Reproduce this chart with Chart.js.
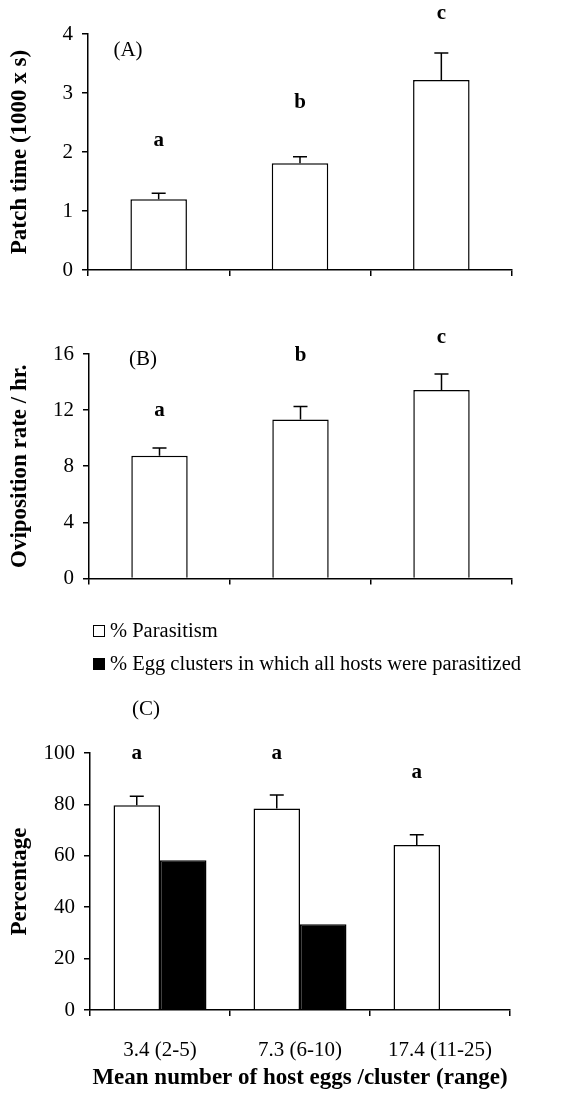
<!DOCTYPE html>
<html>
<head>
<meta charset="utf-8">
<script src="https://cdn.jsdelivr.net/npm/chart.js@4.4.0/dist/chart.umd.min.js"></script>
<style>
  body { margin: 0; background: #fff; width: 571px; height: 1097px; position: relative; overflow: hidden;
         font-family: 'Liberation Serif', 'Times New Roman', serif; color: #000; }
  .box { position: absolute; left: 0; width: 571px; }
  #legend { position: absolute; left: 93px; top: 614px; font-size: 20.5px; line-height: 33px; white-space: nowrap; }
  .key { display: inline-block; width: 10px; height: 10px; border: 1px solid #000; margin-right: 5px; }
</style>
</head>
<body>
<div class="box" style="top:0;height:300px"><canvas id="chartA"></canvas></div>
<div class="box" style="top:300px;height:300px"><canvas id="chartB"></canvas></div>
<div class="box" style="top:600px;height:497px"><canvas id="chartC"></canvas></div>
<div id="legend"></div>
<script>
// data
const groups = ['3.4 (2-5)', '7.3 (6-10)', '17.4 (11-25)'];

const patchTime = [1.2, 1.81, 3.22];
const patchTimeErr = [0.1, 0.11, 0.46];
const patchLetters = ['a', 'b', 'c'];

const ovipRate = [8.74, 11.33, 13.43];
const ovipRateErr = [0.56, 0.93, 1.14];
const ovipLetters = ['a', 'b', 'c'];

const parasitism = [79.7, 78.4, 64.2];
const parasitismErr = [3.5, 5.3, 4.0];
const allParasitized = [58.3, 33.4, 0];
const percentLetters = ['a', 'a', 'a'];

const seriesNames = ['% Parasitism', '% Egg clusters in which all hosts were parasitized'];
const seriesFill = ['#fff', '#000'];

Chart.defaults.font.family = "'Liberation Serif', 'Times New Roman', serif";
Chart.defaults.color = '#000';

// one-sided error bars drawn above each bar
const errorBars = {
  id: 'errorBars',
  afterDatasetsDraw(chart) {
    const ctx = chart.ctx, y = chart.scales.y;
    chart.data.datasets.forEach((ds, i) => {
      if (!ds.errors) return;
      chart.getDatasetMeta(i).data.forEach((bar, j) => {
        const e = ds.errors[j];
        if (!e) return;
        const top = y.getPixelForValue(ds.data[j] + e);
        ctx.save();
        ctx.strokeStyle = '#000';
        ctx.lineWidth = 1.5;
        ctx.beginPath();
        ctx.moveTo(bar.x, bar.y);
        ctx.lineTo(bar.x, top);
        ctx.moveTo(bar.x - 7, top);
        ctx.lineTo(bar.x + 7, top);
        ctx.stroke();
        ctx.restore();
      });
    });
  }
};

// significance letters + panel label
const marks = {
  id: 'marks',
  afterDraw(chart, args, opts) {
    const ctx = chart.ctx, y = chart.scales.y, area = chart.chartArea;
    const bars = chart.getDatasetMeta(0).data;
    ctx.save();
    ctx.fillStyle = '#000';
    ctx.textAlign = 'center';
    ctx.textBaseline = 'middle';
    ctx.font = "bold 21px 'Liberation Serif'";
    opts.letters.forEach((t, i) => ctx.fillText(t, bars[i].x, y.getPixelForValue(opts.letterY[i])));
    ctx.font = "21px 'Liberation Serif'";
    ctx.fillText(opts.panel, area.left + opts.panelX, area.top + opts.panelY);
    ctx.restore();
  }
};

function panel(id, datasets, o) {
  return new Chart(document.getElementById(id), {
    type: 'bar',
    data: { labels: groups, datasets: datasets },
    plugins: [errorBars, marks],
    options: {
      responsive: true,
      maintainAspectRatio: false,
      animation: false,
      layout: { padding: { top: o.top, right: o.right, left: 0, bottom: 0 } },
      datasets: { bar: { categoryPercentage: o.catPct, barPercentage: 1, borderColor: '#000', borderWidth: 1.5 } },
      plugins: {
        legend: { display: false },
        tooltip: { enabled: false },
        marks: { letters: o.letters, letterY: o.letterY, panel: o.panel, panelX: o.panelX, panelY: o.panelY }
      },
      scales: {
        x: {
          offset: true,
          grid: { offset: true, drawOnChartArea: false, tickLength: 6, color: '#000', lineWidth: 1.5 },
          border: { color: '#000', width: 1.5 },
          ticks: { display: o.showLabels, font: { size: 21 }, padding: 22, maxRotation: 0 },
          title: { display: !!o.xTitle, text: o.xTitle, font: { size: 23, weight: 'bold' }, padding: { top: 0, bottom: 5 } },
          afterFit: s => { s.height = o.xHeight; }
        },
        y: {
          min: 0,
          max: o.max,
          ticks: { stepSize: o.step, font: { size: 21 }, padding: 9 },
          grid: { drawOnChartArea: false, tickLength: 6, color: '#000', lineWidth: 1.5 },
          border: { color: '#000', width: 1.5 },
          title: { display: true, text: o.yTitle, font: { size: 23, weight: 'bold' }, padding: { top: 6, bottom: 0 } },
          afterFit: s => { s.width = o.axisX; }
        }
      }
    }
  });
}

panel('chartA', [
  { label: 'Patch time', data: patchTime, errors: patchTimeErr, backgroundColor: '#fff' }
], {
  top: 34, right: 59, axisX: 88, xHeight: 30, catPct: 0.4, max: 4, step: 1,
  yTitle: 'Patch time (1000 x s)', showLabels: false,
  letters: patchLetters, letterY: [2.19, 2.83, 4.34], panel: '(A)', panelX: 40, panelY: 16
});

panel('chartB', [
  { label: 'Oviposition rate', data: ovipRate, errors: ovipRateErr, backgroundColor: '#fff' }
], {
  top: 54, right: 59, axisX: 89, xHeight: 17, catPct: 0.4, max: 16, step: 4,
  yTitle: 'Oviposition rate / hr.', showLabels: false,
  letters: ovipLetters, letterY: [12.0, 15.9, 17.2], panel: '(B)', panelX: 54, panelY: 5
});

panel('chartC', [
  { label: seriesNames[0], data: parasitism, errors: parasitismErr, backgroundColor: seriesFill[0] },
  { label: seriesNames[1], data: allParasitized, backgroundColor: seriesFill[1] }
], {
  top: 153, right: 61, axisX: 90, xHeight: 87, catPct: 0.664, max: 100, step: 20,
  yTitle: 'Percentage', xTitle: 'Mean number of host eggs /cluster (range)', showLabels: true,
  letters: percentLetters, letterY: [99.8, 99.8, 92.5], panel: '(C)', panelX: 56, panelY: -44
});

// legend for panel C
document.getElementById('legend').innerHTML = seriesNames.map((n, i) =>
  '<div><span class="key" style="background:' + seriesFill[i] + '"></span>' + n + '</div>').join('');
</script>
</body>
</html>
